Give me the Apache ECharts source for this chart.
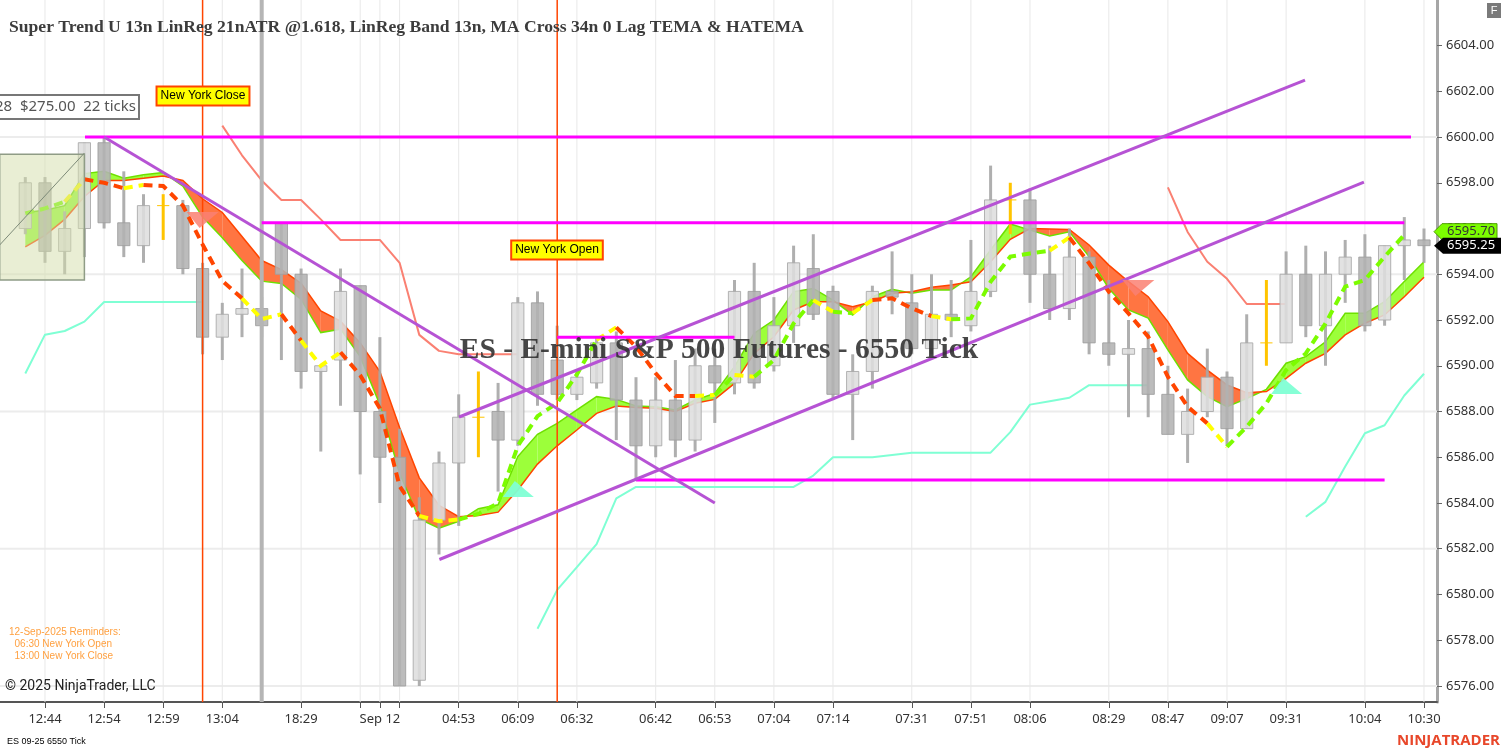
<!DOCTYPE html>
<html><head><meta charset="utf-8">
<script src="https://cdn.jsdelivr.net/npm/echarts@6/dist/echarts.min.js"></script>
<style>html,body{margin:0;padding:0;background:#fff}#c{width:1503px;height:752px}</style>
</head><body><div id="c"></div>
<script>
// ---------------- DATA ----------------
const opens = [6596.0,6598.0,6595.0,6596.0,6599.75,6596.25,6595.25,6597.0,6597.0,6594.25,
6591.25,6592.25,6592.5,6596.25,6594.0,6589.75,6590.25,6593.5,6588.0,6586.0,
6576.25,6583.25,6585.75,6587.75,6588.0,6586.75,6592.75,6590.25,6588.75,6589.25,
6591.0,6588.5,6586.5,6588.5,6586.75,6590.0,6589.25,6593.25,6590.0,6591.75,
6594.25,6593.25,6588.75,6589.75,6593.25,6592.75,6590.75,6592.25,6591.75,6593.25,
6597.25,6597.25,6594.0,6592.5,6594.75,6591.0,6590.5,6590.75,6588.75,6587.0,
6588.0,6589.5,6587.25,6591.0,6591.0,6594.0,6591.75,6594.0,6594.75,6592.0,
6595.25,6595.5];
const highs = [6598.25,6598.25,6596.75,6599.75,6600.0,6598.5,6597.5,6597.5,6597.25,6594.5,
6592.75,6594.25,6593.0,6596.25,6594.25,6590.0,6594.25,6593.5,6591.25,6587.25,
6584.25,6586.25,6588.75,6589.75,6589.25,6593.0,6593.25,6591.75,6589.75,6591.25,
6591.5,6589.5,6589.5,6590.25,6590.75,6590.75,6593.75,6594.5,6593.0,6595.25,
6595.75,6593.5,6590.5,6593.5,6595.0,6594.0,6594.0,6593.75,6595.5,6598.75,
6598.0,6597.75,6595.25,6596.0,6595.0,6593.75,6592.0,6591.5,6590.0,6589.0,
6590.75,6589.75,6592.25,6593.75,6595.0,6595.25,6595.0,6595.5,6595.75,6595.25,
6596.5,6596.0];
const lows = [6595.75,6594.5,6594.0,6594.75,6596.0,6594.75,6594.5,6595.5,6594.0,6590.5,
6590.25,6591.25,6591.25,6590.25,6589.0,6586.25,6588.25,6585.25,6584.0,6576.0,
6576.0,6581.75,6583.0,6586.0,6584.5,6586.5,6588.25,6588.5,6588.5,6589.0,
6586.75,6585.0,6586.0,6586.0,6586.25,6587.5,6588.75,6589.0,6589.75,6591.0,
6592.0,6588.5,6586.75,6589.0,6592.25,6590.5,6590.5,6591.25,6591.5,6593.0,
6595.75,6592.75,6592.0,6592.0,6590.5,6590.0,6587.75,6587.75,6587.0,6585.75,
6587.75,6586.5,6587.25,6590.0,6591.0,6591.25,6590.0,6592.75,6591.5,6591.75,
6593.75,6594.5];
const closes = [6598.0,6595.0,6596.0,6599.75,6596.25,6595.25,6597.0,6597.0,6594.25,6591.25,
6592.25,6592.5,6591.75,6594.0,6589.75,6590.0,6593.25,6588.0,6586.0,6576.0,
6583.25,6585.75,6587.75,6587.75,6586.75,6592.75,6588.75,6588.75,6589.5,6591.0,
6588.5,6586.5,6588.5,6586.75,6590.0,6589.25,6593.25,6589.25,6591.75,6594.5,
6592.25,6588.75,6589.75,6593.25,6593.0,6590.75,6592.25,6592.0,6593.25,6597.25,
6597.25,6594.0,6592.5,6594.75,6591.0,6590.5,6590.75,6588.75,6587.0,6588.0,
6589.5,6587.25,6591.0,6591.0,6594.0,6591.75,6594.0,6594.75,6591.75,6595.25,
6595.5,6595.25];

// LinReg band edges (green edge / orange edge)
const bandGreen = [6596.7,6596.8,6597.0,6598.4,6598.5,6598.2,6598.35,6598.45,6597.85,6596.5,
6595.6,6594.6,6593.7,6593.6,6592.9,6591.45,6591.6,6590.4,6588.3,6585.3,
6583.3,6582.9,6583.2,6583.75,6583.92,6586.03,6587.0,6587.48,6588.07,6588.65,
6588.53,6588.24,6588.21,6588.07,6588.5,6588.79,6589.96,6591.42,6592.0,6593.24,
6593.38,6592.87,6592.22,6593.02,6593.34,6593.17,6593.31,6593.31,6593.89,6595.06,
6596.2,6595.93,6595.67,6595.86,6594.77,6593.38,6592.44,6592.08,6590.69,6589.38,
6588.65,6588.21,6588.57,6588.97,6590.11,6590.4,6591.05,6592.29,6592.29,6592.8,
6593.68,6594.55];
const bandRed = [6595.2,6595.7,6596.4,6597.4,6598.1,6598.1,6598.2,6598.3,6598.1,6597.3,
6596.7,6595.65,6594.6,6594.2,6593.6,6592.4,6591.95,6591.0,6589.75,6587.3,
6585.1,6583.9,6583.4,6583.45,6583.6,6584.57,6585.7,6586.5,6587.19,6587.92,
6588.24,6588.18,6588.14,6588.0,6588.36,6588.53,6589.23,6590.54,6591.27,6592.44,
6592.8,6592.8,6592.58,6592.8,6593.17,6593.24,6593.43,6593.53,6593.67,6594.55,
6595.53,6596.0,6595.98,6595.96,6595.28,6594.4,6593.68,6593.02,6591.93,6590.54,
6589.81,6589.16,6588.82,6588.87,6589.45,6590.11,6590.54,6591.35,6591.86,6592.22,
6593.02,6593.87];

// TEMA / HATEMA dashed line and its per-segment colour codes
const temaVals = [6596.66,6596.88,6597.17,6598.15,6598.0,6597.76,6597.9,6597.86,6597.0,6595.3,
6593.71,6592.95,6592.04,6592.25,6591.1,6590.0,6590.59,6589.59,6588.13,6584.73,
6583.44,6583.2,6583.28,6583.52,6584.0,6586.5,6587.8,6588.37,6589.62,6591.13,
6591.68,6590.83,6589.67,6588.68,6588.68,6588.72,6589.6,6589.52,6590.25,6591.85,
6592.87,6592.36,6592.3,6592.87,6592.95,6592.51,6592.17,6592.03,6592.07,6593.67,
6594.77,6594.91,6595.03,6595.61,6594.48,6593.24,6592.29,6591.27,6589.52,6588.21,
6587.48,6586.46,6587.33,6588.36,6589.81,6590.54,6591.85,6593.46,6593.75,6594.77,
6595.72];
const temaSegColors = "GGYRRYRRRR"+"RYYRYYRRRR"+"YYGGGGGGGY"+"RRRRYGYGGG"+"YGYRRRYGGG"+"GGYRRRRRRR"+"YGGGGGGGGG";

// Super trend stop lines
const salmonStart1 = 10;
const salmonVals1 = [6600.5,6599.2,6598.1,6597.25,6597.25,6596.4,6595.5,6595.5,6595.5,6594.5,6591.35,6590.65,6590.5,6590.5,6590.5,6590.5];
const salmonStart2 = 58;
const salmonVals2 = [6597.8,6595.85,6594.55,6593.8,6592.7,6592.7,6592.7];
const aquaStart1 = 0;
const aquaVals1 = [6589.66,6591.36,6591.52,6591.93,6592.79,6592.79,6592.79,6592.79,6592.79,6592.79];
const aquaStart2 = 26;
const aquaVals2 = [6578.5,6580.2,6581.2,6582.2,6584.2,
6584.7,6584.7,6584.7,6584.7,6584.7,6584.7,6584.7,6584.7,6584.7,
6585.2,6586.0,6586.0,6586.0,6586.1,6586.2,6586.2,6586.2,6586.2,6586.2,
6587.1,6588.3,6588.45,6588.6,6589.15,6589.15,6589.15,6589.15];
const aquaStart3 = 65;
const aquaVals3 = [6583.4,6584.05,6585.6,6587.05,6587.4,6588.7,6589.65];

// signal triangles [barIndex, price]
const sellTriangles = [[9, 6596.72],[56.5, 6593.75]];
const buyTriangles = [[25, 6584.26],[64, 6588.77]];

// drawings
const magentaLines = [[3.03, 70.34, 6600],[12, 70, 6596.25],[27, 36, 6591.25],[31, 69, 6585]]; // [x1,x2,price]
const purpleLines = [[4, 6600, 35, 6584.0],[22.02, 6587.76, 64.96, 6602.49],[21.02, 6581.53, 67.95, 6598.03]];
const sessionRedLines = [9, 27];
const sessionGrayLines = [12];
const measureBox = [-1.3, 3.0, 6593.75, 6599.25];
const measureDiag = [-1.3, 6595.28, 3.0, 6599.3];

// axes
const xTickIdx = [1,4,7,10,14,18,22,25,28,32,35,38,41,45,48,51,55,58,61,64,68,71];
const xTickLbl = ['12:44','12:54','12:59','13:04','18:29','Sep 12','04:53','06:09','06:32','06:42','06:53','07:04','07:14','07:31','07:51','08:06','08:29','08:47','09:07','09:31','10:04','10:30'];
const xTickAll = [1,4,7,10,14,17,18,19,22,25,28,32,35,38,41,45,48,51,55,58,61,64,68,71];
const yTicks = [6576,6578,6580,6582,6584,6586,6588,6590,6592,6594,6596,6598,6600,6602,6604];
const yGrid = [6576,6582,6588,6594,6600];
const lastPrice = 6595.25;
const temaTag = 6595.70;

// ---------------- CHART ----------------
const xMin = -1.284, xMax = 71.66, yMin = 6575.30, yMax = 6605.99;
const chart = echarts.init(document.getElementById('c'), null, {renderer:'canvas'});

function single(name, z, draw) {
  return {type:'custom', name, z, clip:true, silent:true, animation:false,
    data:[[0, 6590]], encode:{x:0, y:1},
    renderItem:(params, api) => ({type:'group', children: draw(api)})};
}
function lineSeries(start, vals, color, z) {
  return {type:'line', z, silent:true, animation:false, showSymbol:false, symbol:'none',
    data: vals.map((v,k)=>[start+k, v]), lineStyle:{color, width:2}};
}

const GREEN_FILL = '#9cff3a', ORANGE_FILL = '#ff7542';
const segColorMap = {G:'#7cfc00', Y:'#ffff00', R:'#ff4500'};

const option = {
  animation:false,
  backgroundColor:'#ffffff',
  grid:{left:0, right:66, top:0, bottom:50, containLabel:false},
  xAxis:{type:'value', min:xMin, max:xMax,
    axisLine:{show:true, onZero:false, lineStyle:{color:'#555', width:2}},
    axisTick:{show:true, customValues:xTickAll, length:6, lineStyle:{color:'#555', width:1}},
    axisLabel:{customValues:xTickIdx, margin:11, fontFamily:'Noto Sans', fontSize:13,
      formatter:v=>{const k=xTickIdx.indexOf(v); return k>=0?xTickLbl[k]:'';},
      color:(v)=> v===71 ? '#1c1c6b' : '#333'},
    splitLine:{show:false}},
  yAxis:{type:'value', position:'right', min:yMin, max:yMax,
    axisLine:{show:true, onZero:false, lineStyle:{color:'#a6a6a6', width:3}},
    axisTick:{show:true, customValues:yTicks, length:5, lineStyle:{color:'#666'}},
    axisLabel:{customValues:yTicks, margin:9, fontFamily:'Noto Sans', fontSize:13, color:'#333',
      formatter:v=>v.toFixed(2)},
    splitLine:{show:false}},
  series:[
    single('grid', 1, api=>{
      const ch=[];
      yGrid.forEach(p=>{const a=api.coord([xMin,p]), b=api.coord([xMax,p]);
        ch.push({type:'line', shape:{x1:a[0],y1:a[1],x2:b[0],y2:b[1]}, style:{stroke:'#ececec', lineWidth:2}});});
      xTickAll.forEach(i=>{const a=api.coord([i,yMin]), b=api.coord([i,yMax]);
        ch.push({type:'line', shape:{x1:a[0],y1:a[1],x2:b[0],y2:b[1]}, style:{stroke:'#e8e8e8', lineWidth:1}});});
      return ch;}),
    single('band', 2, api=>{
      const ch=[], n=bandGreen.length, c=(x,y)=>api.coord([x,y]);
      for(let k=0;k<n-1;k++){
        const g0=bandGreen[k], g1=bandGreen[k+1], r0=bandRed[k], r1=bandRed[k+1];
        const d0=g0-r0, d1=g1-r1;
        if(d0*d1>=0){
          ch.push({type:'polygon', shape:{points:[c(k,g0),c(k+1,g1),c(k+1,r1),c(k,r0)]},
            style:{fill:(d0+d1)>=0?GREEN_FILL:ORANGE_FILL}});
        } else {
          const t=d0/(d0-d1), xm=k+t, ym=g0+t*(g1-g0);
          ch.push({type:'polygon', shape:{points:[c(k,g0),c(xm,ym),c(k,r0)]}, style:{fill:d0>0?GREEN_FILL:ORANGE_FILL}});
          ch.push({type:'polygon', shape:{points:[c(xm,ym),c(k+1,g1),c(k+1,r1)]}, style:{fill:d1>0?GREEN_FILL:ORANGE_FILL}});
        }
      }
      ch.push({type:'polyline', shape:{points:bandGreen.map((v,k)=>c(k,v))}, style:{stroke:'#6ee000', lineWidth:1.5, fill:null}});
      ch.push({type:'polyline', shape:{points:bandRed.map((v,k)=>c(k,v))}, style:{stroke:'#ff4500', lineWidth:1.5, fill:null}});
      return ch;}),
    lineSeries(salmonStart1, salmonVals1, '#fa8072', 3),
    lineSeries(salmonStart2, salmonVals2, '#fa8072', 3),
    lineSeries(aquaStart1, aquaVals1, '#7fffd4', 3),
    lineSeries(aquaStart2, aquaVals2, '#7fffd4', 3),
    lineSeries(aquaStart3, aquaVals3, '#7fffd4', 3),
    {type:'custom', name:'ES', z:4, clip:true, silent:true, animation:false,
      data: opens.map((o,i)=>[i,o,closes[i],lows[i],highs[i]]),
      encode:{x:0, y:[1,2,3,4]},
      renderItem:(params, api)=>{
        const x=api.value(0), o=api.value(1), cl=api.value(2), l=api.value(3), h=api.value(4);
        const pO=api.coord([x,o]), pC=api.coord([x,cl]), pL=api.coord([x,l]), pH=api.coord([x,h]);
        const w=api.size([0.62,0])[0];
        if(o===cl){
          return {type:'group', children:[
            {type:'rect', shape:{x:pH[0]-1.5, y:pH[1], width:3, height:pL[1]-pH[1]}, style:{fill:'#ffc400'}},
            {type:'line', shape:{x1:pO[0]-w/2, y1:pO[1], x2:pO[0]+w/2, y2:pO[1]}, style:{stroke:'#ffc400', lineWidth:1}}]};
        }
        const up=cl>o;
        const top=Math.min(pO[1],pC[1]), hgt=Math.max(1.5, Math.abs(pO[1]-pC[1]));
        return {type:'group', children:[
          {type:'rect', shape:{x:pH[0]-1.5, y:pH[1], width:3, height:pL[1]-pH[1]}, style:{fill:'#a6a6a6', opacity:0.9}},
          {type:'rect', shape:{x:pO[0]-w/2, y:top, width:w, height:hgt},
            style:{fill:up?'#dedede':'#b3b3b3', stroke:up?'#a9a9a9':'#9f9f9f', lineWidth:1, opacity:0.88}}]};
      }},
    single('vlines', 5, api=>{
      const ch=[];
      sessionGrayLines.forEach(i=>{const a=api.coord([i,yMin]), b=api.coord([i,yMax]);
        ch.push({type:'line', shape:{x1:a[0],y1:a[1],x2:b[0],y2:b[1]}, style:{stroke:'#b5b5b5', lineWidth:4}});});
      sessionRedLines.forEach(i=>{const a=api.coord([i,yMin]), b=api.coord([i,yMax]);
        ch.push({type:'line', shape:{x1:a[0],y1:a[1],x2:b[0],y2:b[1]}, style:{stroke:'#ff4500', lineWidth:1.5}});});
      return ch;}),
    single('tema', 6, api=>{
      const ch=[]; let start=0;
      for(let k=0;k<temaSegColors.length;k++){
        const last = k===temaSegColors.length-1 || temaSegColors[k+1]!==temaSegColors[k];
        if(last){
          const pts=[]; for(let j=start;j<=k+1;j++) pts.push(api.coord([j,temaVals[j]]));
          ch.push({type:'polyline', shape:{points:pts}, style:{stroke:segColorMap[temaSegColors[k]], lineWidth:4, lineDash:[9,6], fill:null}});
          start=k+1;
        }
      }
      return ch;}),
    single('drawings', 7, api=>{
      const ch=[];
      magentaLines.forEach(([x1,x2,p])=>{const a=api.coord([x1,p]), b=api.coord([x2,p]);
        ch.push({type:'line', shape:{x1:a[0],y1:a[1],x2:b[0],y2:b[1]}, style:{stroke:'#ff00ff', lineWidth:3}});});
      purpleLines.forEach(([x1,p1,x2,p2])=>{const a=api.coord([x1,p1]), b=api.coord([x2,p2]);
        ch.push({type:'line', shape:{x1:a[0],y1:a[1],x2:b[0],y2:b[1]}, style:{stroke:'#b653d4', lineWidth:3}});});
      sellTriangles.forEach(([i,p])=>{const a=api.coord([i,p]);
        ch.push({type:'polygon', shape:{points:[[a[0]-16,a[1]],[a[0]+16,a[1]],[a[0]-3,a[1]+16]]}, style:{fill:'rgba(250,128,114,0.85)'}});});
      buyTriangles.forEach(([i,p])=>{const a=api.coord([i,p]);
        ch.push({type:'polygon', shape:{points:[[a[0]-15,a[1]],[a[0]+16,a[1]],[a[0]-3,a[1]-16]]}, style:{fill:'rgba(127,255,212,0.95)'}});});
      const m1=api.coord([measureBox[0],measureBox[3]]), m2=api.coord([measureBox[1],measureBox[2]]);
      ch.push({type:'rect', shape:{x:m1[0],y:m1[1],width:m2[0]-m1[0],height:m2[1]-m1[1]},
        style:{fill:'rgba(212,222,170,0.5)', stroke:'#8f9c86', lineWidth:1.5}});
      const d1=api.coord([measureDiag[0],measureDiag[1]]), d2=api.coord([measureDiag[2],measureDiag[3]]);
      ch.push({type:'line', shape:{x1:d1[0],y1:d1[1],x2:d2[0],y2:d2[1]}, style:{stroke:'#7d8a78', lineWidth:1}});
      return ch;})
  ]
};
chart.setOption(option);

const yB = chart.convertToPixel({yAxisIndex:0}, lastPrice);
const yG = yB - 14;
chart.setOption({graphic:[
  {type:'text', left:9, top:18, z:100, style:{text:'Super Trend U 13n LinReg 21nATR @1.618, LinReg Band 13n, MA Cross 34n 0 Lag TEMA & HATEMA', font:'bold 17.6px "Liberation Serif"', fill:'#3c3c3c'}},
  {type:'text', x:719, y:350, z:100, style:{text:'ES - E-mini S&P 500 Futures - 6550 Tick', font:'bold 29.5px "Liberation Serif"', fill:'rgba(45,45,45,0.88)', align:'center', verticalAlign:'middle', textAlign:'center', textVerticalAlign:'middle'}},
  {type:'rect', z:100, shape:{x:-2, y:95, width:141, height:24}, style:{fill:'#fff', stroke:'#777', lineWidth:2}},
  {type:'text', x:136, y:107, z:101, style:{text:':28  $275.00  22 ticks', font:'15px "Noto Sans"', fill:'#555', align:'right', verticalAlign:'middle', textAlign:'right', textVerticalAlign:'middle'}},
  {type:'text', x:203, y:96, z:100, style:{text:'New York Close', font:'12px "Liberation Sans"', fill:'#000', backgroundColor:'#ffff00', borderColor:'#ff4500', borderWidth:2, padding:[3,3,2,3], align:'center', verticalAlign:'middle', textAlign:'center', textVerticalAlign:'middle'}},
  {type:'text', x:557, y:250, z:100, style:{text:'New York Open', font:'12px "Liberation Sans"', fill:'#000', backgroundColor:'#ffff00', borderColor:'#ff4500', borderWidth:2, padding:[3,3,2,3], align:'center', verticalAlign:'middle', textAlign:'center', textVerticalAlign:'middle'}},
  {type:'text', left:9, top:626, z:100, style:{text:'12-Sep-2025 Reminders:\n  06:30 New York Open\n  13:00 New York Close', font:'10px "Liberation Sans"', lineHeight:12, fill:'#ffa040'}},
  {type:'text', left:5, top:679, z:100, style:{text:'\u00A9 2025 NinjaTrader, LLC', font:'14px Roboto', fill:'#222'}},
  {type:'text', left:7, top:737, z:100, style:{text:'ES 09-25 6550 Tick', font:'9px "Liberation Sans"', fill:'#000'}},
  {type:'text', x:1500, y:741, z:100, style:{text:'NINJATRADER', font:'bold 15px "Open Sans"', fill:'#e8472a', align:'right', verticalAlign:'middle', textAlign:'right', textVerticalAlign:'middle'}},
  {type:'rect', z:100, shape:{x:1487, y:3, width:14, height:15}, style:{fill:'#7a7a7a'}},
  {type:'text', x:1494, y:11, z:101, style:{text:'F', font:'11px "Liberation Sans"', fill:'#fff', align:'center', verticalAlign:'middle', textAlign:'center', textVerticalAlign:'middle'}},
  {type:'polygon', z:100, shape:{points:[[1434,yG],[1442,yG-8],[1497,yG-8],[1497,yG+8],[1442,yG+8]]}, style:{fill:'#7cfc00', stroke:'#4e9e00', lineWidth:1}},
  {type:'text', x:1447, y:yG, z:101, style:{text:temaTag.toFixed(2), font:'13px "Noto Sans"', fill:'#333', verticalAlign:'middle', textVerticalAlign:'middle'}},
  {type:'polygon', z:102, shape:{points:[[1434,yB],[1443,yB-8],[1501,yB-8],[1501,yB+8],[1443,yB+8]]}, style:{fill:'#000'}},
  {type:'text', x:1447, y:yB, z:103, style:{text:lastPrice.toFixed(2), font:'13px "Noto Sans"', fill:'#fff', verticalAlign:'middle', textVerticalAlign:'middle'}}
]});
</script>
</body></html>
